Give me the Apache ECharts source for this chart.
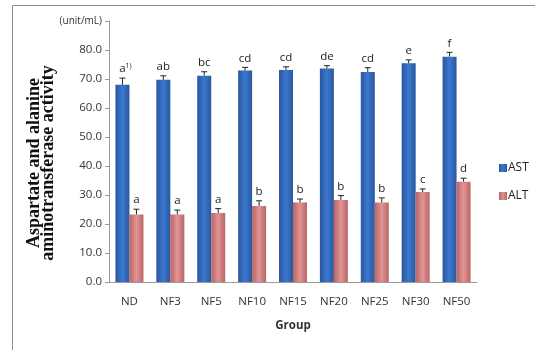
<!DOCTYPE html>
<html><head><meta charset="utf-8">
<script src="https://cdn.jsdelivr.net/npm/echarts@6/dist/echarts.min.js"></script>
<style>html,body{margin:0;padding:0;background:#fff}#c{width:535px;height:350px}</style>
</head><body><div id="c"></div>
<script>
const categories = ['ND','NF3','NF5','NF10','NF15','NF20','NF25','NF30','NF50'];
const astValues = [68.0, 69.7, 71.1, 72.9, 73.1, 73.6, 72.4, 75.4, 77.7];
const astErrors = [2.3, 1.4, 1.4, 1.1, 1.1, 1.0, 1.5, 1.2, 1.5];
const astLetters = ['a','ab','bc','cd','cd','de','cd','e','f'];
const altValues = [23.3, 23.3, 23.8, 26.2, 27.4, 28.3, 27.4, 31.0, 34.6];
const altErrors = [1.8, 1.5, 1.5, 1.8, 1.2, 1.5, 1.6, 1.1, 1.2];
const altLetters = ['a','a','a','b','b','b','b','c','d'];
const yTicksMax = 90;

const chart = echarts.init(document.getElementById('c'), null, {renderer:'canvas'});
const BW = 14;
function errSeries(name, vals, errs, letters, sign) {
  return {
    type: 'custom', name: name + 'err', silent: true, z: 5,
    data: vals.map((v,i)=>[i, v, errs[i]]),
    renderItem: function(params, api) {
      const i = api.value(0), v = api.value(1), e = api.value(2);
      const letter = letters[i];
      const base = api.coord([i, v]);
      const top = api.coord([i, v + e]);
      const x = base[0] + sign * BW / 2;
      const children = [
        {type:'line', shape:{x1:x, y1:base[1], x2:x, y2:top[1]}, style:{stroke:'#222', lineWidth:1}},
        {type:'line', shape:{x1:x-3, y1:top[1], x2:x+3, y2:top[1]}, style:{stroke:'#222', lineWidth:1}}
      ];
      const isFirst = (i === 0 && sign < 0);
      children.push({type:'text', x: x + (isFirst ? 3 : 0), y: top[1] - 3,
        style:{text: isFirst ? '{m|a}{s|1)}' : letter, align:'center', verticalAlign:'bottom',
          fontFamily:'Open Sans, Liberation Sans, sans-serif', fontSize:11.5, fill:'#222',
          rich:{m:{fontSize:11.5, fill:'#222', fontFamily:'Open Sans'}, s:{fontSize:7, fill:'#222', verticalAlign:'top', padding:[0,0,6,0], fontFamily:'Open Sans'}}}});
      return {type:'group', children};
    }
  };
}
const option = {
  animation: false,
  graphic: [
    {type:'rect', shape:{x:12.5, y:5.5, width:700, height:500}, style:{fill:'none', stroke:'#8c8c8c', lineWidth:1}, z:-10},
    {type:'text', rotation: Math.PI/2, x:41, y:163,
      style:{text:'Aspartate and alanine\naminotransferase activity', fontFamily:'Liberation Serif, Times New Roman, serif',
        fontWeight:'bold', fontSize:18, lineHeight:14, fill:'#111', align:'center', verticalAlign:'middle'}}
  ],
  legend: {
    orient:'vertical', left: 494, top: 157, itemWidth: 8, itemHeight: 8, itemGap: 16,
    data:['AST','ALT'], textStyle:{fontSize:12, color:'#222', fontFamily:'Open Sans, Liberation Sans, sans-serif', padding:[0,0,0,-4]},
    icon: 'rect'
  },
  grid: {left:109, right:58, top:21, bottom:68, containLabel:false},
  xAxis: {
    type:'category', data: categories,
    axisLine:{lineStyle:{color:'#999'}}, axisTick:{show:false},
    axisLabel:{fontSize:11.5, color:'#333', margin:14, fontFamily:'Open Sans, Liberation Sans, sans-serif'},
    name:'Group', nameLocation:'middle', nameGap:38,
    nameTextStyle:{fontSize:11.5, fontWeight:'bold', color:'#333', fontFamily:'Open Sans, Liberation Sans, sans-serif'}
  },
  yAxis: {
    type:'value', min:0, max:yTicksMax, interval:10,
    axisLine:{show:true, lineStyle:{color:'#999'}}, axisTick:{show:true, length:4, lineStyle:{color:'#999'}},
    splitLine:{show:false},
    axisLabel:{fontSize:11.5, color:'#333', margin:7, fontFamily:'Open Sans, Liberation Sans, sans-serif',
      formatter: v => v === yTicksMax ? '{u|(unit/mL)}' : v.toFixed(1),
      rich:{u:{fontSize:10, color:'#333', fontFamily:'Open Sans, Liberation Sans, sans-serif'}}}
  },
  series: [
    {name:'AST', type:'bar', data: astValues, barWidth: BW, barGap:'0%',
      itemStyle:{color: new echarts.graphic.LinearGradient(0,0,1,0,[{offset:0,color:'#2a579c'},{offset:0.5,color:'#3b78d0'},{offset:1,color:'#2a579c'}])}},
    {name:'ALT', type:'bar', data: altValues, barWidth: BW, barGap:'0%',
      itemStyle:{color: new echarts.graphic.LinearGradient(0,0,1,0,[{offset:0,color:'#b86464'},{offset:0.5,color:'#e29494'},{offset:1,color:'#b86464'}])}},
    errSeries('AST', astValues, astErrors, astLetters, -1),
    errSeries('ALT', altValues, altErrors, altLetters, 1)
  ]
};
chart.setOption(option);
</script></body></html>
